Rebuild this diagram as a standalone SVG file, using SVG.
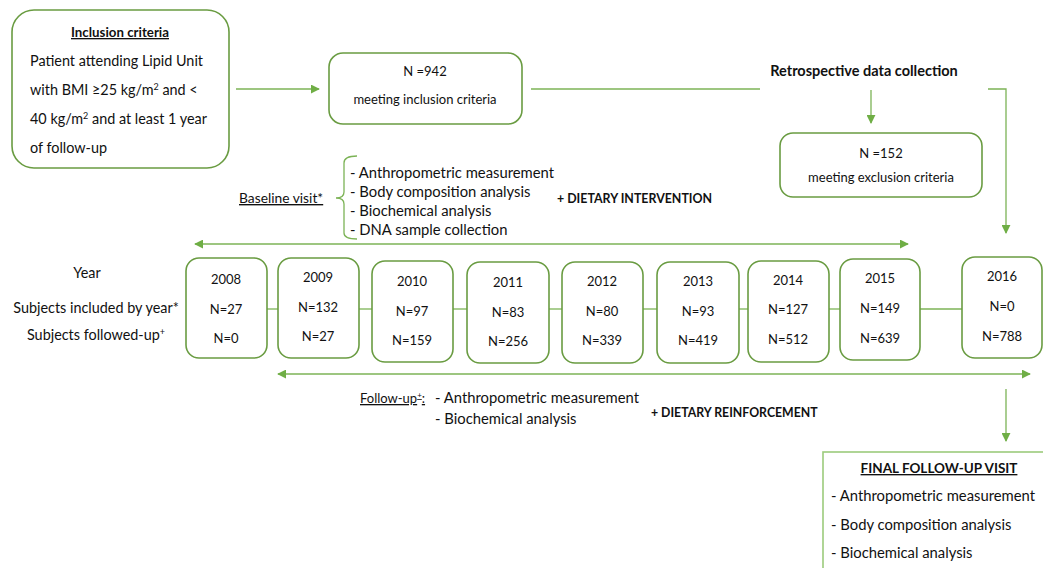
<svg xmlns="http://www.w3.org/2000/svg" width="1043" height="568" viewBox="0 0 1043 568">
<defs>
<style>
text{font-family:Lato,"Liberation Sans",sans-serif;font-size:14px;fill:#111}
.c{text-anchor:middle}
.b{font-weight:bold}
.u{text-decoration:underline}
.s{font-size:13px}
.m{font-size:14.4px}
.l{font-size:14.8px}
.box{fill:#fff;stroke:#6a9c42;stroke-width:1.6}
.ln{fill:none;stroke:#7cb356;stroke-width:1.3}
</style>
<marker id="ah" viewBox="0 0 10 10" refX="9" refY="5" markerWidth="9" markerHeight="9" markerUnits="userSpaceOnUse" orient="auto-start-reverse"><path d="M0,0 L10,5 L0,10 z" fill="#6fae45"/></marker>
</defs>
<rect width="1043" height="568" fill="#fff"/>
<g id="connectors">
<line class="ln" x1="236" y1="89" x2="319" y2="89" marker-end="url(#ah)"/>
<line class="ln" x1="531" y1="89" x2="760" y2="89"/>
<polyline class="ln" points="988,89 1006,89 1006,233" marker-end="url(#ah)"/>
<line class="ln" x1="871" y1="90" x2="871" y2="123" marker-end="url(#ah)"/>
<line class="ln" x1="195" y1="244" x2="908" y2="244" marker-start="url(#ah)" marker-end="url(#ah)"/>
<line class="ln" x1="278" y1="374" x2="1030" y2="374" marker-start="url(#ah)" marker-end="url(#ah)"/>
<line class="ln" x1="1006" y1="389" x2="1006" y2="441" marker-end="url(#ah)"/>
<g class="ln">
<line x1="267" y1="309" x2="278" y2="309"/>
<line x1="359" y1="309" x2="372" y2="309"/>
<line x1="453" y1="309" x2="467" y2="309"/>
<line x1="549" y1="309" x2="562" y2="309"/>
<line x1="643" y1="309" x2="657" y2="309"/>
<line x1="739" y1="309" x2="748" y2="309"/>
<line x1="829" y1="309" x2="840" y2="309"/>
<line x1="920" y1="309" x2="962" y2="309"/>
</g>
<path class="ln" d="M357,156 Q344,156 344,163 L344,192 Q344,198 336,198 Q344,198 344,204 L344,233 Q344,239 357,239"/>
</g>
<g id="inclusion">
<rect class="box" x="12" y="10" width="217" height="158" rx="22"/>
<text class="c b u" x="120" y="37" style="font-size:13.3px">Inclusion criteria</text>
<text class="m" x="30" y="66">Patient attending Lipid Unit</text>
<text class="m" x="30" y="95">with BMI ≥25 kg/m<tspan dy="-5" font-size="9">2</tspan><tspan dy="5"> and &lt;</tspan></text>
<text class="m" x="30" y="124">40 kg/m<tspan dy="-5" font-size="9">2</tspan><tspan dy="5"> and at least 1 year</tspan></text>
<text class="m" x="30" y="153">of follow-up</text>
</g>
<g id="n942">
<rect class="box" x="329" y="53" width="193" height="71" rx="14"/>
<text class="c s" x="425" y="76">N =942</text>
<text class="c s" x="425" y="104">meeting inclusion criteria</text>
</g>
<g id="retro">
<text class="c b" x="864" y="76" style="font-size:14.5px">Retrospective data collection</text>
</g>
<g id="n152">
<rect class="box" x="780" y="133" width="202" height="64" rx="13"/>
<text class="c s" x="881" y="158">N =152</text>
<text class="c s" x="881" y="182">meeting exclusion criteria</text>
</g>
<g id="baseline">
<text class="u" x="239" y="203" style="font-size:13.8px">Baseline visit*</text>
<text class="l" x="350" y="178">- Anthropometric measurement</text>
<text class="l" x="350" y="197">- Body composition analysis</text>
<text class="l" x="350" y="216">- Biochemical analysis</text>
<text class="l" x="350" y="235">- DNA sample collection</text>
<text class="b" x="557" y="203" style="font-size:12.4px">+ DIETARY INTERVENTION</text>
</g>
<g id="labels">
<text class="c m" x="87" y="278">Year</text>
<text class="c m" x="96" y="313">Subjects included by year*</text>
<text class="c m" x="96" y="340">Subjects followed-up<tspan dy="-5" font-size="9">+</tspan></text>
</g>
<g id="y2008"><rect class="box" x="186" y="258" width="81" height="100" rx="13"/>
<text class="c s" x="226" y="284">2008</text><text class="c s" x="226" y="314">N=27</text><text class="c s" x="226" y="343">N=0</text></g>
<g id="y2009"><rect class="box" x="278" y="258" width="81" height="100" rx="13"/>
<text class="c s" x="318" y="282">2009</text><text class="c s" x="318" y="312">N=132</text><text class="c s" x="318" y="341">N=27</text></g>
<g id="y2010"><rect class="box" x="372" y="261" width="81" height="101" rx="13"/>
<text class="c s" x="412" y="286">2010</text><text class="c s" x="412" y="316">N=97</text><text class="c s" x="412" y="345">N=159</text></g>
<g id="y2011"><rect class="box" x="467" y="262" width="82" height="101" rx="13"/>
<text class="c s" x="508" y="287">2011</text><text class="c s" x="508" y="317">N=83</text><text class="c s" x="508" y="346">N=256</text></g>
<g id="y2012"><rect class="box" x="562" y="262" width="81" height="101" rx="13"/>
<text class="c s" x="602" y="286">2012</text><text class="c s" x="602" y="316">N=80</text><text class="c s" x="602" y="345">N=339</text></g>
<g id="y2013"><rect class="box" x="657" y="262" width="82" height="101" rx="13"/>
<text class="c s" x="698" y="286">2013</text><text class="c s" x="698" y="316">N=93</text><text class="c s" x="698" y="345">N=419</text></g>
<g id="y2014"><rect class="box" x="748" y="261" width="81" height="101" rx="13"/>
<text class="c s" x="788" y="285">2014</text><text class="c s" x="788" y="314">N=127</text><text class="c s" x="788" y="344">N=512</text></g>
<g id="y2015"><rect class="box" x="840" y="259" width="80" height="101" rx="13"/>
<text class="c s" x="880" y="283">2015</text><text class="c s" x="880" y="313">N=149</text><text class="c s" x="880" y="343">N=639</text></g>
<g id="y2016"><rect class="box" x="962" y="257" width="80" height="101" rx="13"/>
<text class="c s" x="1002" y="281">2016</text><text class="c s" x="1002" y="311">N=0</text><text class="c s" x="1002" y="341">N=788</text></g>
<g id="followup">
<text class="u s" x="360" y="403">Follow-up<tspan dy="-5" font-size="8">+</tspan><tspan dy="5">:</tspan></text>
<text class="l" x="435" y="403">- Anthropometric measurement</text>
<text class="l" x="435" y="424">- Biochemical analysis</text>
<text class="b" x="651" y="417" style="font-size:12.3px">+ DIETARY REINFORCEMENT</text>
</g>
<g id="final">
<rect fill="#fff" stroke="#9ccb7c" stroke-width="1.6" x="823" y="452" width="230" height="130"/>
<text class="c b u" x="939" y="473" style="font-size:13.5px">FINAL FOLLOW-UP VISIT</text>
<text class="l" x="831" y="501">- Anthropometric measurement</text>
<text class="l" x="831" y="530">- Body composition analysis</text>
<text class="l" x="831" y="558">- Biochemical analysis</text>
</g>
</svg>
